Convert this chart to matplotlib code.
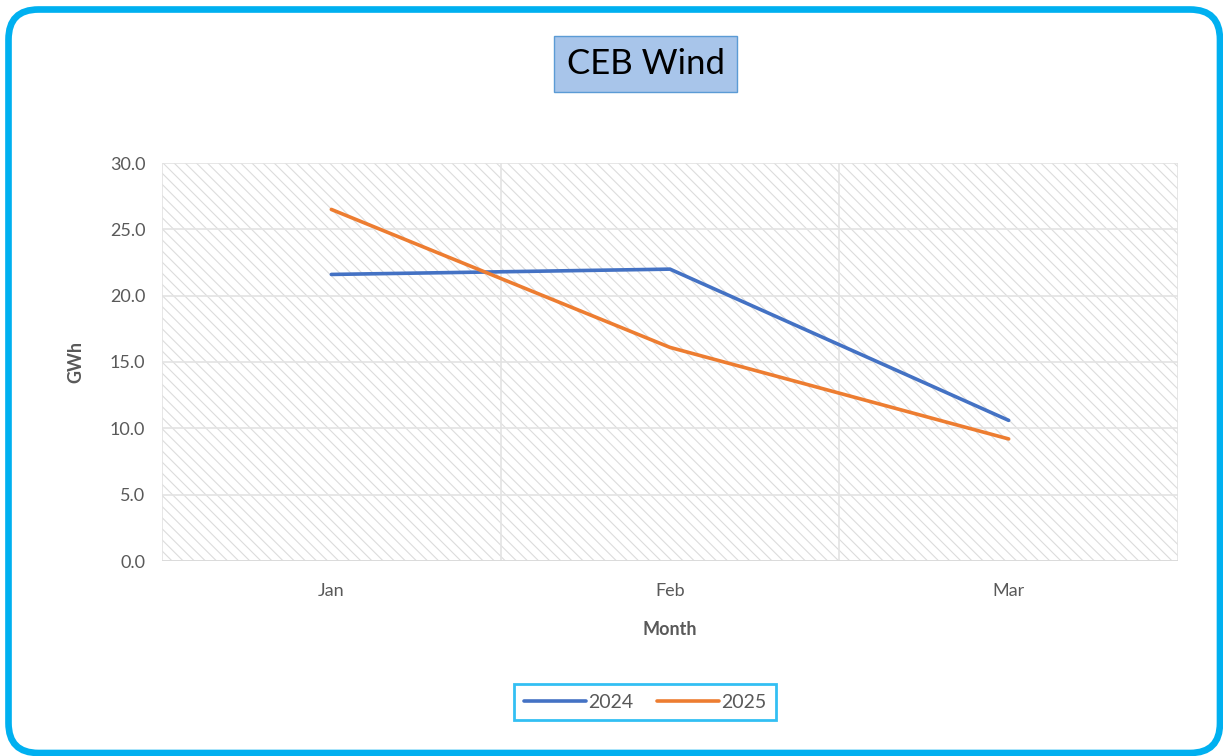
import numpy as np
import matplotlib
matplotlib.use('Agg')
import matplotlib.pyplot as plt
from matplotlib.patches import FancyBboxPatch, Rectangle

# Data
months = ['Jan', 'Feb', 'Mar']
wind_2024 = [21.6, 22.0, 10.6]
wind_2025 = [26.5, 16.1, 9.2]
y_ticks = [0, 5, 10, 15, 20, 25, 30]

plt.rcParams['font.family'] = ['Lato', 'DejaVu Sans']
plt.rcParams['hatch.linewidth'] = 0.8

grey_txt = '#595959'
cyan = '#00B0F0'

fig = plt.figure(figsize=(12.23, 7.56), dpi=100)
ax = fig.add_axes([162 / 1223, 1 - 561 / 756, (1178 - 162) / 1223, (561 - 163) / 756])

# hatched plot area
ax.add_patch(Rectangle((0, 0), 1, 1, transform=ax.transAxes, facecolor='white',
                       edgecolor='#DCDCDC', linewidth=0, hatch='\\\\\\', zorder=0))

x = np.arange(len(months))
ax.plot(x, wind_2024, color='#4472C4', lw=2.6, label='2024', solid_capstyle='round', zorder=3)
ax.plot(x, wind_2025, color='#ED7D31', lw=2.6, label='2025', solid_capstyle='round', zorder=3)

ax.set_xlim(-0.5, 2.5)
ax.set_ylim(0, 30)
ax.set_xticks(x)
ax.set_xticklabels(months)
ax.set_xticks(np.arange(-0.5, 2.6, 0.5), minor=True)
ax.set_yticks(y_ticks)
ax.set_yticklabels([f'{v:.1f}' for v in y_ticks])
ax.tick_params(axis='both', which='both', length=0, labelsize=13, colors=grey_txt)
ax.tick_params(axis='x', pad=16)
ax.tick_params(axis='y', pad=12)
ax.grid(which='major', axis='y', color='#E3E3E3', lw=1.2, zorder=1)
ax.grid(which='minor', axis='x', color='#E3E3E3', lw=1.2, zorder=1)
ax.set_axisbelow(True)
for s in ax.spines.values():
    s.set_visible(False)
ax.axhline(0, color='#D9D9D9', lw=1.2, zorder=2)

ax.set_xlabel('Month', fontsize=13, fontweight='bold', color=grey_txt, labelpad=16)
ax.set_ylabel('GWh', fontsize=13, fontweight='bold', color=grey_txt, labelpad=18)

# title box
fig.text(645.5 / 1223, 1 - 64 / 756, 'CEB Wind', fontsize=25, ha='center', va='center', color='black',
         bbox=dict(boxstyle='square,pad=0.35', facecolor='#A8C5EA', edgecolor='#5B9BD5', lw=1))

leg = fig.legend(loc='center', bbox_to_anchor=(645 / 1223, 1 - 702 / 756), ncol=2, frameon=True,
                 fontsize=14, handlelength=3.2, handletextpad=0.1, columnspacing=1.2,
                 fancybox=False, borderpad=0.5)
leg.get_frame().set_edgecolor(cyan)
leg.get_frame().set_linewidth(2)
for t in leg.get_texts():
    t.set_color(grey_txt)

# outer rounded frame
frame = FancyBboxPatch((0.085, 0.03), 12.115, 7.435, boxstyle='round,pad=0,rounding_size=0.3',
                       transform=fig.dpi_scale_trans, facecolor='none', edgecolor=cyan, lw=4.8)
fig.patches.append(frame)

fig.savefig('out.png', dpi=100)
